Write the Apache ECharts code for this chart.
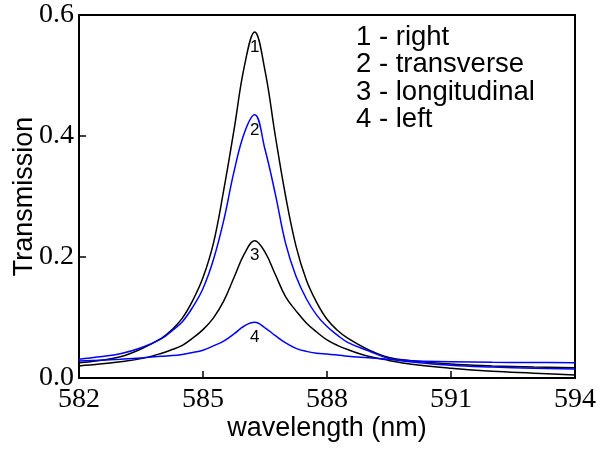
<!DOCTYPE html>
<html>
<head>
<meta charset="utf-8">
<script src="https://cdn.jsdelivr.net/npm/echarts@6/dist/echarts.min.js"></script>
<style>
  html, body { margin: 0; padding: 0; background: #fff; }
  #chart { width: 597px; height: 449px; }
</style>
</head>
<body>
<div id="chart"></div>
<script>
// Wavelength grid (nm)
var wavelength = [582, 582.5, 583, 583.5, 584, 584.25, 584.5, 584.75, 585, 585.25, 585.5, 585.75, 586, 586.25, 586.5, 586.75, 587, 587.25, 587.5, 587.75, 588, 588.25, 588.5, 589, 589.5, 590, 591, 592, 593, 594];

// 1 - right (black)
var rightT = [0.025, 0.029, 0.035, 0.048, 0.066, 0.080, 0.099, 0.128, 0.166, 0.222, 0.310, 0.410, 0.515, 0.572, 0.508, 0.400, 0.300, 0.218, 0.162, 0.125, 0.097, 0.079, 0.066, 0.047, 0.034, 0.029, 0.023, 0.020, 0.018, 0.017];
// 2 - transverse (blue)
var transverseT = [0.031, 0.035, 0.040, 0.050, 0.065, 0.078, 0.093, 0.117, 0.148, 0.195, 0.260, 0.341, 0.405, 0.435, 0.378, 0.304, 0.222, 0.168, 0.131, 0.104, 0.085, 0.071, 0.059, 0.045, 0.032, 0.027, 0.021, 0.018, 0.016, 0.015];
// 3 - longitudinal (black)
var longitudinalT = [0.020, 0.023, 0.027, 0.032, 0.041, 0.047, 0.054, 0.066, 0.080, 0.099, 0.127, 0.166, 0.205, 0.227, 0.208, 0.171, 0.134, 0.111, 0.091, 0.076, 0.063, 0.054, 0.047, 0.036, 0.029, 0.023, 0.016, 0.011, 0.008, 0.005];
// 4 - left (blue)
var leftT = [0.028, 0.0295, 0.031, 0.033, 0.036, 0.037, 0.039, 0.042, 0.046, 0.053, 0.061, 0.073, 0.086, 0.092, 0.083, 0.070, 0.058, 0.049, 0.044, 0.041, 0.0395, 0.038, 0.036, 0.0335, 0.031, 0.0285, 0.027, 0.026, 0.0257, 0.0253];

var curveNames = ['1', '2', '3', '4'];
var curveColors = ['#000000', '#0000ff', '#000000', '#0000ff'];
var peakWavelength = [586.25, 586.25, 586.25, 586.25];
var peakValue = [0.572, 0.435, 0.227, 0.092];
var legendLines = ['1 - right', '2 - transverse', '3 - longitudinal', '4 - left'];

var xTicks = [582, 585, 588, 591, 594];
var yTicks = [0.0, 0.2, 0.4, 0.6];

var curves = [rightT, transverseT, longitudinalT, leftT];

function pairs(ys) {
  return wavelength.map(function (x, i) { return [x, ys[i]]; });
}

var series = curves.map(function (ys, k) {
  return {
    name: curveNames[k],
    type: 'line',
    data: pairs(ys),
    showSymbol: false,
    smooth: 0.4,
    lineStyle: { color: curveColors[k], width: 1.5 },
    itemStyle: { color: curveColors[k] },
    z: 3 + k,
    markPoint: {
      symbol: 'circle',
      symbolSize: 0,
      silent: true,
      data: [{ coord: [peakWavelength[k], peakValue[k]], value: curveNames[k] }],
      label: {
        show: true,
        position: 'inside',
        offset: [0, 15],
        formatter: curveNames[k],
        color: '#000',
        fontFamily: 'Liberation Sans, Arial, sans-serif',
        fontSize: 17
      }
    }
  };
});

var chart = echarts.init(document.getElementById('chart'), null, { renderer: 'canvas' });
chart.setOption({
  animation: false,
  backgroundColor: '#ffffff',
  grid: {
    left: 79, top: 15, right: 22, bottom: 71,
    containLabel: false,
    outerBoundsMode: 'none',
    show: true, borderColor: '#000', borderWidth: 2, backgroundColor: 'transparent'
  },
  xAxis: {
    type: 'value',
    min: 582, max: 594, interval: 3,
    name: 'wavelength (nm)',
    nameLocation: 'middle',
    nameGap: 37,
    nameMoveOverlap: false,
    nameTextStyle: { fontFamily: 'Liberation Sans, Arial, sans-serif', fontSize: 27, color: '#000' },
    axisLine: { show: true, onZero: false, lineStyle: { color: '#000', width: 2 } },
    axisTick: { show: true, inside: true, length: 7, lineStyle: { color: '#000', width: 1.5 } },
    axisLabel: {
      margin: 8,
      fontFamily: 'Liberation Serif, Times New Roman, serif', fontSize: 28, color: '#000',
      showMinLabel: true, showMaxLabel: true,
      formatter: function (v) { return xTicks.indexOf(v) >= 0 ? String(v) : ''; }
    },
    splitLine: { show: false }
  },
  yAxis: {
    type: 'value',
    min: 0, max: 0.6, interval: 0.2,
    name: 'Transmission',
    nameLocation: 'middle',
    nameGap: 41,
    nameMoveOverlap: false,
    nameTextStyle: { fontFamily: 'Liberation Sans, Arial, sans-serif', fontSize: 27, color: '#000' },
    axisLine: { show: true, onZero: false, lineStyle: { color: '#000', width: 2 } },
    axisTick: { show: true, inside: true, length: 7, lineStyle: { color: '#000', width: 1.5 } },
    axisLabel: {
      margin: 5,
      fontFamily: 'Liberation Serif, Times New Roman, serif', fontSize: 28, color: '#000',
      showMinLabel: true, showMaxLabel: true,
      formatter: function (v) {
        for (var i = 0; i < yTicks.length; i++) {
          if (Math.abs(yTicks[i] - v) < 1e-9) return yTicks[i].toFixed(1);
        }
        return '';
      }
    },
    splitLine: { show: false }
  },
  graphic: [{
    type: 'text',
    left: 356,
    top: 23,
    style: {
      text: legendLines.join('\n'),
      fontFamily: 'Liberation Sans, Arial, sans-serif',
      fontSize: 27.5,
      lineHeight: 27.5,
      fill: '#000'
    }
  }],
  series: series
});
</script>
</body>
</html>
